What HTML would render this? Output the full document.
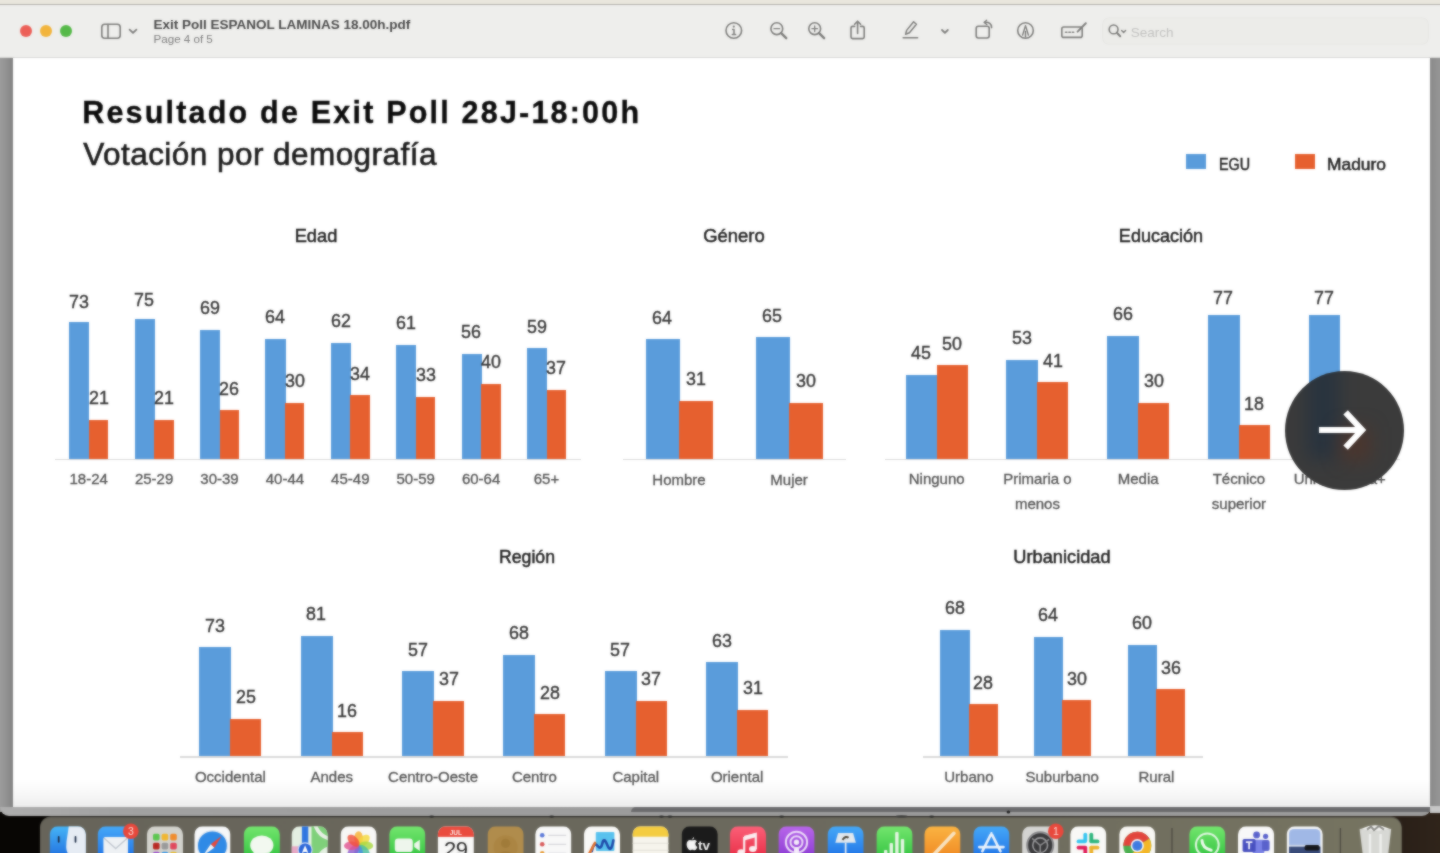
<!DOCTYPE html>
<html><head><meta charset="utf-8"><title>Exit Poll</title>
<style>
html,body{margin:0;padding:0;}
body{width:1440px;height:853px;overflow:hidden;position:relative;background:#0c0a08;font-family:"Liberation Sans", sans-serif;}
.t{position:absolute;white-space:nowrap;}
.r{position:absolute;}
#blurwrap{position:absolute;left:-20px;top:-20px;width:1480px;height:893px;overflow:hidden;filter:url(#sb);}
#in{position:absolute;left:20px;top:20px;width:1440px;height:853px;}
svg{position:absolute;overflow:visible;}
</style></head><body><svg width="0" height="0" style="position:absolute"><filter id="sb" x="0" y="0" width="100%" height="100%" color-interpolation-filters="sRGB"><feGaussianBlur stdDeviation="0.9" result="b"/><feComposite in="SourceGraphic" in2="b" operator="arithmetic" k1="0" k2="0.4" k3="0.6" k4="0"/></filter></svg><div id="blurwrap"><div id="in">
<div class="r" style="left:-20.00px;top:-20.00px;width:1480.00px;height:25.00px;background:#e9e6dd;"></div>
<div class="r" style="left:-20.00px;top:812.00px;width:1480.00px;height:61.00px;background:linear-gradient(90deg,#080604 0%,#0c0a08 50%,#2a2018 96%,#32261c 100%);"></div>
<div class="r" style="left:-20.00px;top:4.00px;width:1480.00px;height:808.00px;background:linear-gradient(90deg,#9c9c9c 20px,#8d8d8d 29px,#848484 31.5px,#8a8a8a 34px,#8a8a8a 1450px,#969696 1460px);"></div>
<div class="r" style="left:0;top:806.5px;width:1430.6px;height:9.7px;background:linear-gradient(90deg,#aeaeae 0,#a2a2a2 8%,#9e9e9e 30%,#9c9c9c 44%,#9b9b9b 44.3%,#9c9c9c 100%);border-radius:0 0 10px 10px;"></div>
<div class="r" style="left:631px;top:807.3px;width:799.6px;height:5px;background:#6b6b6d;border-radius:5px 0 0 0;"></div>
<div class="r" style="left:1430.40px;top:806.00px;width:30.00px;height:6.50px;background:#c6c6c6;"></div>
<div class="r" style="left:-20px;top:4px;width:1480px;height:53.5px;background:#eeeeec;border-top:1px solid #b4b2ac;box-sizing:border-box;"></div>
<div class="r" style="left:-20.00px;top:57.00px;width:1480.00px;height:0.80px;background:#d8d8d6;"></div>
<div class="r" style="left:12.5px;top:57.5px;width:1417.9px;height:749.8px;background:linear-gradient(180deg,#fff 0,#fff 722px,#f6f6f6 738px,#ececec 749.8px);"></div>
<div class="r" style="left:19.6px;top:25px;width:12.4px;height:12.4px;border-radius:50%;background:#ec5f57;"></div>
<div class="r" style="left:39.6px;top:25px;width:12.4px;height:12.4px;border-radius:50%;background:#f2b43c;"></div>
<div class="r" style="left:59.6px;top:25px;width:12.4px;height:12.4px;border-radius:50%;background:#55b948;"></div>
<div class="t" style="left:153.50px;top:18.37px;font-size:13.5px;line-height:13.5px;font-weight:700;color:#4a4a4a;">Exit Poll ESPANOL LAMINAS 18.00h.pdf</div>
<div class="t" style="left:153.50px;top:33.38px;font-size:11.6px;line-height:11.6px;color:#7e7e7e;">Page 4 of 5</div>
<div class="r" style="left:1103px;top:18px;width:325px;height:26px;border-radius:6px;background:#ecece9;box-shadow:0 0 0 0.6px #e3e3e0;"></div>
<div class="t" style="left:1130.80px;top:26.07px;font-size:13.5px;line-height:13.5px;color:#c2c2c0;">Search</div>
<svg style="left:0;top:0" width="1440" height="57" viewBox="0 0 1440 57" fill="none" stroke="#7d7d7b" stroke-width="1.6" stroke-linecap="round" stroke-linejoin="round"><rect x="101.8" y="24.3" width="18.4" height="14" rx="3"/><path d="M108 24.5V38"/><path d="M129.6 29.6L133 32.9L136.4 29.6" stroke-width="1.8"/><circle cx="733.8" cy="30.5" r="7.8"/><path d="M732.6 29.4H734V34.4M732.3 34.6H735.6" stroke-width="1.5"/><circle cx="733.8" cy="26.6" r="1.1" fill="#7d7d7b" stroke="none"/><circle cx="776.8" cy="28.7" r="5.9"/><path d="M781.1999999999999 33.2L786.1999999999999 38.2" stroke-width="2.4"/><path d="M774.0 28.7H779.5999999999999" stroke-width="1.3"/><circle cx="814.7" cy="28.7" r="5.9"/><path d="M819.1 33.2L824.1 38.2" stroke-width="2.4"/><path d="M811.9000000000001 28.7H817.5" stroke-width="1.3"/><path d="M814.7 25.9V31.5" stroke-width="1.3"/><path d="M854.6 26.4H852.6Q851 26.4 851 28V37Q851 38.6 852.6 38.6H862.6Q864.2 38.6 864.2 37V28Q864.2 26.4 862.6 26.4H860.6"/><path d="M857.6 33.5V21.4M854.6 24.2L857.6 21.2L860.6 24.2"/><path d="M903.2 37.8H917.6"/><path d="M905.6 34.2L906.6 30.4L913.6 21.8L916.4 24.2L909.4 32.8Z" stroke-width="1.5"/><path d="M942 30L944.9 32.8L947.8 30" stroke-width="1.8"/><rect x="976.2" y="26.2" width="13" height="11.8" rx="2.2"/><path d="M984.5 22.3Q991.6 21.6 991.6 27.6"/><path d="M986.6 20.2L984.2 22.4L986.8 24.6" stroke-width="1.3"/><circle cx="1025.5" cy="30.5" r="7.8"/><path d="M1022.6 35L1025.5 25.6L1028.4 35M1025.5 31.5V37" stroke-width="1.4"/><rect x="1061.8" y="27" width="20.4" height="10.4" rx="2"/><path d="M1065.5 32.2H1075" stroke-dasharray="1.4 2" stroke-width="1.6"/><path d="M1077.6 31.6L1085.8 23.2" stroke-width="2"/><circle cx="1113.6" cy="29.4" r="4.4"/><path d="M1116.9 32.8L1120.2 36.2" stroke-width="2"/><path d="M1121.6 30.6L1123.6 32.6L1125.6 30.6" stroke-width="1.4"/></svg>
<div class="t" style="left:82.20px;top:97.18px;font-size:30.5px;line-height:30.5px;letter-spacing:2.2px;font-weight:700;color:#0c0c0c;-webkit-text-stroke:0.35px #0c0c0c;">Resultado de Exit Poll 28J-18:00h</div>
<div class="t" style="left:83.30px;top:138.94px;font-size:31.5px;line-height:31.5px;letter-spacing:0.45px;color:#1c1c1c;-webkit-text-stroke:0.6px #161616;">Votación por demografía</div>
<div class="r" style="left:1185.80px;top:153.50px;width:20.00px;height:15.50px;background:#5a9cdb;"></div>
<div class="r" style="left:1294.60px;top:153.50px;width:20.00px;height:15.50px;background:#e6602f;"></div>
<div class="t" style="left:1218.60px;top:155.63px;font-size:16.5px;line-height:16.5px;color:#222;transform-origin:0 50%;transform:scaleX(0.87);-webkit-text-stroke:0.5px #222;">EGU</div>
<div class="t" style="left:1326.90px;top:155.63px;font-size:16.5px;line-height:16.5px;color:#222;transform-origin:0 50%;transform:scaleX(1.055);-webkit-text-stroke:0.5px #222;">Maduro</div>
<div class="t" style="left:315.60px;top:226.12px;font-size:19px;line-height:19px;color:#222;transform:translateX(-50%) scaleX(0.96);-webkit-text-stroke:0.5px #222;">Edad</div>
<div class="t" style="left:734.00px;top:226.12px;font-size:19px;line-height:19px;color:#222;transform:translateX(-50%) scaleX(0.97);-webkit-text-stroke:0.5px #222;">Género</div>
<div class="t" style="left:1161.00px;top:226.12px;font-size:19px;line-height:19px;color:#222;transform:translateX(-50%) scaleX(0.95);-webkit-text-stroke:0.5px #222;">Educación</div>
<div class="t" style="left:527.40px;top:546.72px;font-size:19px;line-height:19px;color:#222;transform:translateX(-50%) scaleX(0.93);-webkit-text-stroke:0.5px #222;">Región</div>
<div class="t" style="left:1061.90px;top:546.72px;font-size:19px;line-height:19px;color:#222;transform:translateX(-50%) scaleX(0.96);-webkit-text-stroke:0.5px #222;">Urbanicidad</div>
<div class="r" style="left:55.00px;top:458.80px;width:526.00px;height:1.40px;background:#dadada;"></div>
<div class="r" style="left:69.10px;top:322.29px;width:20.40px;height:136.51px;background:#5a9cdb;"></div>
<div class="t" style="left:78.90px;top:291.61px;font-size:19px;line-height:19px;color:#363636;transform:translateX(-50%) scaleX(0.94);-webkit-text-stroke:0.42px #363636;">73</div>
<div class="r" style="left:88.70px;top:419.53px;width:19.60px;height:39.27px;background:#e6602f;"></div>
<div class="t" style="left:98.50px;top:387.85px;font-size:19px;line-height:19px;color:#363636;transform:translateX(-50%) scaleX(0.94);-webkit-text-stroke:0.42px #363636;">21</div>
<div class="t" style="left:88.70px;top:470.90px;font-size:15px;line-height:15px;color:#555;transform:translateX(-50%) scaleX(1.0);-webkit-text-stroke:0.32px #555;">18-24</div>
<div class="r" style="left:134.50px;top:318.55px;width:20.40px;height:140.25px;background:#5a9cdb;"></div>
<div class="t" style="left:144.30px;top:289.57px;font-size:19px;line-height:19px;color:#363636;transform:translateX(-50%) scaleX(0.94);-webkit-text-stroke:0.42px #363636;">75</div>
<div class="r" style="left:154.10px;top:419.53px;width:19.60px;height:39.27px;background:#e6602f;"></div>
<div class="t" style="left:163.90px;top:387.85px;font-size:19px;line-height:19px;color:#363636;transform:translateX(-50%) scaleX(0.94);-webkit-text-stroke:0.42px #363636;">21</div>
<div class="t" style="left:154.10px;top:470.90px;font-size:15px;line-height:15px;color:#555;transform:translateX(-50%) scaleX(1.0);-webkit-text-stroke:0.32px #555;">25-29</div>
<div class="r" style="left:199.90px;top:329.77px;width:20.40px;height:129.03px;background:#5a9cdb;"></div>
<div class="t" style="left:209.70px;top:298.09px;font-size:19px;line-height:19px;color:#363636;transform:translateX(-50%) scaleX(0.94);-webkit-text-stroke:0.42px #363636;">69</div>
<div class="r" style="left:219.50px;top:410.18px;width:19.60px;height:48.62px;background:#e6602f;"></div>
<div class="t" style="left:229.30px;top:378.50px;font-size:19px;line-height:19px;color:#363636;transform:translateX(-50%) scaleX(0.94);-webkit-text-stroke:0.42px #363636;">26</div>
<div class="t" style="left:219.50px;top:470.90px;font-size:15px;line-height:15px;color:#555;transform:translateX(-50%) scaleX(1.0);-webkit-text-stroke:0.32px #555;">30-39</div>
<div class="r" style="left:265.30px;top:339.12px;width:20.40px;height:119.68px;background:#5a9cdb;"></div>
<div class="t" style="left:275.10px;top:307.44px;font-size:19px;line-height:19px;color:#363636;transform:translateX(-50%) scaleX(0.94);-webkit-text-stroke:0.42px #363636;">64</div>
<div class="r" style="left:284.90px;top:402.70px;width:19.60px;height:56.10px;background:#e6602f;"></div>
<div class="t" style="left:294.70px;top:371.02px;font-size:19px;line-height:19px;color:#363636;transform:translateX(-50%) scaleX(0.94);-webkit-text-stroke:0.42px #363636;">30</div>
<div class="t" style="left:284.90px;top:470.90px;font-size:15px;line-height:15px;color:#555;transform:translateX(-50%) scaleX(1.0);-webkit-text-stroke:0.32px #555;">40-44</div>
<div class="r" style="left:330.70px;top:342.86px;width:20.40px;height:115.94px;background:#5a9cdb;"></div>
<div class="t" style="left:340.50px;top:311.18px;font-size:19px;line-height:19px;color:#363636;transform:translateX(-50%) scaleX(0.94);-webkit-text-stroke:0.42px #363636;">62</div>
<div class="r" style="left:350.30px;top:395.22px;width:19.60px;height:63.58px;background:#e6602f;"></div>
<div class="t" style="left:360.10px;top:363.54px;font-size:19px;line-height:19px;color:#363636;transform:translateX(-50%) scaleX(0.94);-webkit-text-stroke:0.42px #363636;">34</div>
<div class="t" style="left:350.30px;top:470.90px;font-size:15px;line-height:15px;color:#555;transform:translateX(-50%) scaleX(1.0);-webkit-text-stroke:0.32px #555;">45-49</div>
<div class="r" style="left:396.10px;top:344.73px;width:20.40px;height:114.07px;background:#5a9cdb;"></div>
<div class="t" style="left:405.90px;top:313.05px;font-size:19px;line-height:19px;color:#363636;transform:translateX(-50%) scaleX(0.94);-webkit-text-stroke:0.42px #363636;">61</div>
<div class="r" style="left:415.70px;top:397.09px;width:19.60px;height:61.71px;background:#e6602f;"></div>
<div class="t" style="left:425.50px;top:365.41px;font-size:19px;line-height:19px;color:#363636;transform:translateX(-50%) scaleX(0.94);-webkit-text-stroke:0.42px #363636;">33</div>
<div class="t" style="left:415.70px;top:470.90px;font-size:15px;line-height:15px;color:#555;transform:translateX(-50%) scaleX(1.0);-webkit-text-stroke:0.32px #555;">50-59</div>
<div class="r" style="left:461.50px;top:354.08px;width:20.40px;height:104.72px;background:#5a9cdb;"></div>
<div class="t" style="left:471.30px;top:322.40px;font-size:19px;line-height:19px;color:#363636;transform:translateX(-50%) scaleX(0.94);-webkit-text-stroke:0.42px #363636;">56</div>
<div class="r" style="left:481.10px;top:384.00px;width:19.60px;height:74.80px;background:#e6602f;"></div>
<div class="t" style="left:490.90px;top:352.32px;font-size:19px;line-height:19px;color:#363636;transform:translateX(-50%) scaleX(0.94);-webkit-text-stroke:0.42px #363636;">40</div>
<div class="t" style="left:481.10px;top:470.90px;font-size:15px;line-height:15px;color:#555;transform:translateX(-50%) scaleX(1.0);-webkit-text-stroke:0.32px #555;">60-64</div>
<div class="r" style="left:526.90px;top:348.47px;width:20.40px;height:110.33px;background:#5a9cdb;"></div>
<div class="t" style="left:536.70px;top:316.79px;font-size:19px;line-height:19px;color:#363636;transform:translateX(-50%) scaleX(0.94);-webkit-text-stroke:0.42px #363636;">59</div>
<div class="r" style="left:546.50px;top:389.61px;width:19.60px;height:69.19px;background:#e6602f;"></div>
<div class="t" style="left:556.30px;top:357.93px;font-size:19px;line-height:19px;color:#363636;transform:translateX(-50%) scaleX(0.94);-webkit-text-stroke:0.42px #363636;">37</div>
<div class="t" style="left:546.50px;top:470.90px;font-size:15px;line-height:15px;color:#555;transform:translateX(-50%) scaleX(1.0);-webkit-text-stroke:0.32px #555;">65+</div>
<div class="r" style="left:623.00px;top:458.80px;width:223.00px;height:1.40px;background:#dadada;"></div>
<div class="r" style="left:645.60px;top:339.31px;width:34.20px;height:119.49px;background:#5a9cdb;"></div>
<div class="t" style="left:662.30px;top:307.63px;font-size:19px;line-height:19px;color:#363636;transform:translateX(-50%) scaleX(0.94);-webkit-text-stroke:0.42px #363636;">64</div>
<div class="r" style="left:679.00px;top:400.92px;width:34.00px;height:57.88px;background:#e6602f;"></div>
<div class="t" style="left:696.00px;top:369.24px;font-size:19px;line-height:19px;color:#363636;transform:translateX(-50%) scaleX(0.94);-webkit-text-stroke:0.42px #363636;">31</div>
<div class="t" style="left:679.00px;top:471.60px;font-size:15px;line-height:15px;color:#555;transform:translateX(-50%) scaleX(1.0);-webkit-text-stroke:0.32px #555;">Hombre</div>
<div class="r" style="left:755.70px;top:337.44px;width:34.20px;height:121.36px;background:#5a9cdb;"></div>
<div class="t" style="left:772.40px;top:305.76px;font-size:19px;line-height:19px;color:#363636;transform:translateX(-50%) scaleX(0.94);-webkit-text-stroke:0.42px #363636;">65</div>
<div class="r" style="left:789.10px;top:402.79px;width:34.00px;height:56.01px;background:#e6602f;"></div>
<div class="t" style="left:806.10px;top:371.11px;font-size:19px;line-height:19px;color:#363636;transform:translateX(-50%) scaleX(0.94);-webkit-text-stroke:0.42px #363636;">30</div>
<div class="t" style="left:789.10px;top:471.60px;font-size:15px;line-height:15px;color:#555;transform:translateX(-50%) scaleX(1.0);-webkit-text-stroke:0.32px #555;">Mujer</div>
<div class="r" style="left:885.00px;top:458.80px;width:515.00px;height:1.40px;background:#dadada;"></div>
<div class="r" style="left:905.70px;top:374.79px;width:31.80px;height:84.02px;background:#5a9cdb;"></div>
<div class="t" style="left:921.20px;top:343.10px;font-size:19px;line-height:19px;color:#363636;transform:translateX(-50%) scaleX(0.94);-webkit-text-stroke:0.42px #363636;">45</div>
<div class="r" style="left:936.70px;top:365.45px;width:31.00px;height:93.35px;background:#e6602f;"></div>
<div class="t" style="left:952.20px;top:333.77px;font-size:19px;line-height:19px;color:#363636;transform:translateX(-50%) scaleX(0.94);-webkit-text-stroke:0.42px #363636;">50</div>
<div class="t" style="left:936.70px;top:471.10px;font-size:15px;line-height:15px;color:#555;transform:translateX(-50%) scaleX(1.0);-webkit-text-stroke:0.32px #555;">Ninguno</div>
<div class="r" style="left:1006.45px;top:359.85px;width:31.80px;height:98.95px;background:#5a9cdb;"></div>
<div class="t" style="left:1021.95px;top:328.17px;font-size:19px;line-height:19px;color:#363636;transform:translateX(-50%) scaleX(0.94);-webkit-text-stroke:0.42px #363636;">53</div>
<div class="r" style="left:1037.45px;top:382.25px;width:31.00px;height:76.55px;background:#e6602f;"></div>
<div class="t" style="left:1052.95px;top:350.57px;font-size:19px;line-height:19px;color:#363636;transform:translateX(-50%) scaleX(0.94);-webkit-text-stroke:0.42px #363636;">41</div>
<div class="t" style="left:1037.45px;top:471.10px;font-size:15px;line-height:15px;color:#555;transform:translateX(-50%) scaleX(1.0);-webkit-text-stroke:0.32px #555;">Primaria o</div>
<div class="t" style="left:1037.45px;top:496.35px;font-size:15px;line-height:15px;color:#555;transform:translateX(-50%) scaleX(1.0);-webkit-text-stroke:0.32px #555;">menos</div>
<div class="r" style="left:1107.20px;top:335.58px;width:31.80px;height:123.22px;background:#5a9cdb;"></div>
<div class="t" style="left:1122.70px;top:303.89px;font-size:19px;line-height:19px;color:#363636;transform:translateX(-50%) scaleX(0.94);-webkit-text-stroke:0.42px #363636;">66</div>
<div class="r" style="left:1138.20px;top:402.79px;width:31.00px;height:56.01px;background:#e6602f;"></div>
<div class="t" style="left:1153.70px;top:371.11px;font-size:19px;line-height:19px;color:#363636;transform:translateX(-50%) scaleX(0.94);-webkit-text-stroke:0.42px #363636;">30</div>
<div class="t" style="left:1138.20px;top:471.10px;font-size:15px;line-height:15px;color:#555;transform:translateX(-50%) scaleX(1.0);-webkit-text-stroke:0.32px #555;">Media</div>
<div class="r" style="left:1207.95px;top:315.04px;width:31.80px;height:143.76px;background:#5a9cdb;"></div>
<div class="t" style="left:1223.45px;top:288.36px;font-size:19px;line-height:19px;color:#363636;transform:translateX(-50%) scaleX(0.94);-webkit-text-stroke:0.42px #363636;">77</div>
<div class="r" style="left:1238.95px;top:425.19px;width:31.00px;height:33.61px;background:#e6602f;"></div>
<div class="t" style="left:1254.45px;top:393.51px;font-size:19px;line-height:19px;color:#363636;transform:translateX(-50%) scaleX(0.94);-webkit-text-stroke:0.42px #363636;">18</div>
<div class="t" style="left:1238.95px;top:471.10px;font-size:15px;line-height:15px;color:#555;transform:translateX(-50%) scaleX(1.0);-webkit-text-stroke:0.32px #555;">Técnico</div>
<div class="t" style="left:1238.95px;top:496.35px;font-size:15px;line-height:15px;color:#555;transform:translateX(-50%) scaleX(1.0);-webkit-text-stroke:0.32px #555;">superior</div>
<div class="r" style="left:1308.70px;top:315.04px;width:31.00px;height:143.76px;background:#5a9cdb;"></div>
<div class="t" style="left:1324.20px;top:288.36px;font-size:19px;line-height:19px;color:#363636;transform:translateX(-50%) scaleX(0.94);-webkit-text-stroke:0.42px #363636;">77</div>
<div class="t" style="left:1339.70px;top:471.10px;font-size:15px;line-height:15px;color:#555;transform:translateX(-50%) scaleX(1.0);-webkit-text-stroke:0.32px #555;">Universitaria+</div>
<div class="r" style="left:179.70px;top:756.20px;width:608.30px;height:1.40px;background:#dadada;"></div>
<div class="r" style="left:199.40px;top:647.43px;width:31.80px;height:108.77px;background:#5a9cdb;"></div>
<div class="t" style="left:214.90px;top:615.75px;font-size:19px;line-height:19px;color:#363636;transform:translateX(-50%) scaleX(0.94);-webkit-text-stroke:0.42px #363636;">73</div>
<div class="r" style="left:230.40px;top:718.95px;width:31.00px;height:37.25px;background:#e6602f;"></div>
<div class="t" style="left:245.90px;top:687.27px;font-size:19px;line-height:19px;color:#363636;transform:translateX(-50%) scaleX(0.94);-webkit-text-stroke:0.42px #363636;">25</div>
<div class="t" style="left:230.40px;top:768.80px;font-size:15px;line-height:15px;color:#555;transform:translateX(-50%) scaleX(1.0);-webkit-text-stroke:0.32px #555;">Occidental</div>
<div class="r" style="left:300.75px;top:635.51px;width:31.80px;height:120.69px;background:#5a9cdb;"></div>
<div class="t" style="left:316.25px;top:603.83px;font-size:19px;line-height:19px;color:#363636;transform:translateX(-50%) scaleX(0.94);-webkit-text-stroke:0.42px #363636;">81</div>
<div class="r" style="left:331.75px;top:732.36px;width:31.00px;height:23.84px;background:#e6602f;"></div>
<div class="t" style="left:347.25px;top:700.68px;font-size:19px;line-height:19px;color:#363636;transform:translateX(-50%) scaleX(0.94);-webkit-text-stroke:0.42px #363636;">16</div>
<div class="t" style="left:331.75px;top:768.80px;font-size:15px;line-height:15px;color:#555;transform:translateX(-50%) scaleX(1.0);-webkit-text-stroke:0.32px #555;">Andes</div>
<div class="r" style="left:402.10px;top:671.27px;width:31.80px;height:84.93px;background:#5a9cdb;"></div>
<div class="t" style="left:417.60px;top:639.59px;font-size:19px;line-height:19px;color:#363636;transform:translateX(-50%) scaleX(0.94);-webkit-text-stroke:0.42px #363636;">57</div>
<div class="r" style="left:433.10px;top:701.07px;width:31.00px;height:55.13px;background:#e6602f;"></div>
<div class="t" style="left:448.60px;top:669.39px;font-size:19px;line-height:19px;color:#363636;transform:translateX(-50%) scaleX(0.94);-webkit-text-stroke:0.42px #363636;">37</div>
<div class="t" style="left:433.10px;top:768.80px;font-size:15px;line-height:15px;color:#555;transform:translateX(-50%) scaleX(1.0);-webkit-text-stroke:0.32px #555;">Centro-Oeste</div>
<div class="r" style="left:503.45px;top:654.88px;width:31.80px;height:101.32px;background:#5a9cdb;"></div>
<div class="t" style="left:518.95px;top:623.20px;font-size:19px;line-height:19px;color:#363636;transform:translateX(-50%) scaleX(0.94);-webkit-text-stroke:0.42px #363636;">68</div>
<div class="r" style="left:534.45px;top:714.48px;width:31.00px;height:41.72px;background:#e6602f;"></div>
<div class="t" style="left:549.95px;top:682.80px;font-size:19px;line-height:19px;color:#363636;transform:translateX(-50%) scaleX(0.94);-webkit-text-stroke:0.42px #363636;">28</div>
<div class="t" style="left:534.45px;top:768.80px;font-size:15px;line-height:15px;color:#555;transform:translateX(-50%) scaleX(1.0);-webkit-text-stroke:0.32px #555;">Centro</div>
<div class="r" style="left:604.80px;top:671.27px;width:31.80px;height:84.93px;background:#5a9cdb;"></div>
<div class="t" style="left:620.30px;top:639.59px;font-size:19px;line-height:19px;color:#363636;transform:translateX(-50%) scaleX(0.94);-webkit-text-stroke:0.42px #363636;">57</div>
<div class="r" style="left:635.80px;top:701.07px;width:31.00px;height:55.13px;background:#e6602f;"></div>
<div class="t" style="left:651.30px;top:669.39px;font-size:19px;line-height:19px;color:#363636;transform:translateX(-50%) scaleX(0.94);-webkit-text-stroke:0.42px #363636;">37</div>
<div class="t" style="left:635.80px;top:768.80px;font-size:15px;line-height:15px;color:#555;transform:translateX(-50%) scaleX(1.0);-webkit-text-stroke:0.32px #555;">Capital</div>
<div class="r" style="left:706.15px;top:662.33px;width:31.80px;height:93.87px;background:#5a9cdb;"></div>
<div class="t" style="left:721.65px;top:630.65px;font-size:19px;line-height:19px;color:#363636;transform:translateX(-50%) scaleX(0.94);-webkit-text-stroke:0.42px #363636;">63</div>
<div class="r" style="left:737.15px;top:710.01px;width:31.00px;height:46.19px;background:#e6602f;"></div>
<div class="t" style="left:752.65px;top:678.33px;font-size:19px;line-height:19px;color:#363636;transform:translateX(-50%) scaleX(0.94);-webkit-text-stroke:0.42px #363636;">31</div>
<div class="t" style="left:737.15px;top:768.80px;font-size:15px;line-height:15px;color:#555;transform:translateX(-50%) scaleX(1.0);-webkit-text-stroke:0.32px #555;">Oriental</div>
<div class="r" style="left:922.80px;top:756.40px;width:280.00px;height:1.40px;background:#dadada;"></div>
<div class="r" style="left:940.30px;top:629.58px;width:29.40px;height:126.82px;background:#5a9cdb;"></div>
<div class="t" style="left:954.60px;top:597.90px;font-size:19px;line-height:19px;color:#363636;transform:translateX(-50%) scaleX(0.94);-webkit-text-stroke:0.42px #363636;">68</div>
<div class="r" style="left:968.90px;top:704.18px;width:28.80px;height:52.22px;background:#e6602f;"></div>
<div class="t" style="left:983.30px;top:672.50px;font-size:19px;line-height:19px;color:#363636;transform:translateX(-50%) scaleX(0.94);-webkit-text-stroke:0.42px #363636;">28</div>
<div class="t" style="left:968.90px;top:768.80px;font-size:15px;line-height:15px;color:#555;transform:translateX(-50%) scaleX(1.0);-webkit-text-stroke:0.32px #555;">Urbano</div>
<div class="r" style="left:1033.60px;top:637.04px;width:29.40px;height:119.36px;background:#5a9cdb;"></div>
<div class="t" style="left:1047.90px;top:605.36px;font-size:19px;line-height:19px;color:#363636;transform:translateX(-50%) scaleX(0.94);-webkit-text-stroke:0.42px #363636;">64</div>
<div class="r" style="left:1062.20px;top:700.45px;width:28.80px;height:55.95px;background:#e6602f;"></div>
<div class="t" style="left:1076.60px;top:668.77px;font-size:19px;line-height:19px;color:#363636;transform:translateX(-50%) scaleX(0.94);-webkit-text-stroke:0.42px #363636;">30</div>
<div class="t" style="left:1062.20px;top:768.80px;font-size:15px;line-height:15px;color:#555;transform:translateX(-50%) scaleX(1.0);-webkit-text-stroke:0.32px #555;">Suburbano</div>
<div class="r" style="left:1127.80px;top:644.50px;width:29.40px;height:111.90px;background:#5a9cdb;"></div>
<div class="t" style="left:1142.10px;top:612.82px;font-size:19px;line-height:19px;color:#363636;transform:translateX(-50%) scaleX(0.94);-webkit-text-stroke:0.42px #363636;">60</div>
<div class="r" style="left:1156.40px;top:689.26px;width:28.80px;height:67.14px;background:#e6602f;"></div>
<div class="t" style="left:1170.80px;top:657.58px;font-size:19px;line-height:19px;color:#363636;transform:translateX(-50%) scaleX(0.94);-webkit-text-stroke:0.42px #363636;">36</div>
<div class="t" style="left:1156.40px;top:768.80px;font-size:15px;line-height:15px;color:#555;transform:translateX(-50%) scaleX(1.0);-webkit-text-stroke:0.32px #555;">Rural</div>
<div class="r" style="left:1285.2px;top:371.4px;width:119px;height:119px;border-radius:50%;background:#3b3b3b;overflow:hidden;"><div class="r" style="left:22px;top:-10px;width:32px;height:98px;background:rgba(26,46,66,.55);filter:blur(9px);"></div><div class="r" style="left:54px;top:56px;width:32px;height:34px;background:rgba(92,50,34,.5);filter:blur(9px);"></div></div>
<svg style="left:1285.2px;top:371.4px" width="119" height="119" viewBox="0 0 119 119"><path d="M34 59H78M60.6 41.4L77 59L60.6 76.6" fill="none" stroke="#fff" stroke-width="6.2" stroke-linejoin="miter"/></svg>
<svg style="left:0;top:812px" width="1440" height="61" viewBox="0 812 1440 61"><defs>
<linearGradient id="gB" x1="0" y1="0" x2="0" y2="1"><stop offset="0" stop-color="#45a8f8"/><stop offset="1" stop-color="#1d6de4"/></linearGradient>
<linearGradient id="gG" x1="0" y1="0" x2="0" y2="1"><stop offset="0" stop-color="#74e66e"/><stop offset="1" stop-color="#2cbf3c"/></linearGradient>
<linearGradient id="gR" x1="0" y1="0" x2="0" y2="1"><stop offset="0" stop-color="#fb6078"/><stop offset="1" stop-color="#e62840"/></linearGradient>
<linearGradient id="gP" x1="0" y1="0" x2="0" y2="1"><stop offset="0" stop-color="#b866ea"/><stop offset="1" stop-color="#8636d0"/></linearGradient>
<linearGradient id="gO" x1="0" y1="0" x2="0" y2="1"><stop offset="0" stop-color="#fbb442"/><stop offset="1" stop-color="#ee8420"/></linearGradient>
<linearGradient id="gF" x1="0" y1="0" x2="0" y2="1"><stop offset="0" stop-color="#46b4f6"/><stop offset="1" stop-color="#1c66dc"/></linearGradient>
<linearGradient id="gD" x1="0" y1="0" x2="1" y2="0"><stop offset="0" stop-color="#67645a"/><stop offset="0.6" stop-color="#6c6a5e"/><stop offset="1" stop-color="#767461"/></linearGradient>
<clipPath id="ic"><rect x="0" y="0" width="36.2" height="36.2" rx="8.2"/></clipPath>
</defs><rect x="40" y="816.4" width="1361.6" height="60" rx="11" fill="#55534b"/><rect x="40" y="817.8" width="1361.6" height="60" rx="11" fill="url(#gD)"/><path d="M1172 828V873M1340.4 828V873" stroke="#4f4c43" stroke-width="1.3"/><g transform="translate(49.7,826.3)"><g clip-path="url(#ic)"><rect width="36.2" height="36.2" fill="url(#gF)"/><path d="M19 0H37V37H21C21.5 31 16.5 27 16.5 21C16.5 13 18.5 7 19 0Z" fill="#e6ecf4"/><path d="M9 10.5V15.5M25.8 10.5V15.5" stroke="#1a2a44" stroke-width="1.7" stroke-linecap="round"/></g></g><g transform="translate(97.6,826.3)"><g clip-path="url(#ic)"><rect width="36.2" height="36.2" fill="url(#gB)"/><rect x="5.8" y="10.8" width="24.6" height="18" rx="2" fill="#eef1f4"/><path d="M6.3 11.8L18.1 22.3L29.9 11.8" fill="none" stroke="#c2c8d0" stroke-width="1.4"/></g></g><g transform="translate(146.8,826.3)"><g clip-path="url(#ic)"><rect width="36.2" height="36.2" fill="#d2d2cc"/><rect x="6.2" y="7.5" width="6.6" height="6.6" rx="1.6" fill="#5cc650"/><rect x="14.8" y="7.5" width="6.6" height="6.6" rx="1.6" fill="#f0b630"/><rect x="23.4" y="7.5" width="6.6" height="6.6" rx="1.6" fill="#f08c2c"/><rect x="6.2" y="16.5" width="6.6" height="6.6" rx="1.6" fill="#b82a22"/><rect x="14.8" y="16.5" width="6.6" height="6.6" rx="1.6" fill="#9a9a9a"/><rect x="23.4" y="16.5" width="6.6" height="6.6" rx="1.6" fill="#e0485c"/><rect x="6.2" y="25.5" width="6.6" height="6.6" rx="1.6" fill="#a35ad0"/><rect x="14.8" y="25.5" width="6.6" height="6.6" rx="1.6" fill="#4aa0e8"/><rect x="23.4" y="25.5" width="6.6" height="6.6" rx="1.6" fill="#e8c040"/></g></g><g transform="translate(194.3,826.3)"><g clip-path="url(#ic)"><rect width="36.2" height="36.2" fill="#f6f7f8"/><circle cx="18.1" cy="19.5" r="15" fill="#2f8ae6"/><circle cx="18.1" cy="19.5" r="15" fill="none" stroke="#dfe6ee" stroke-width="1.2"/><path d="M27.5 9.5L20 21.5L16.4 18Z" fill="#e64a3c"/><path d="M8.6 29.5L16.4 18L20 21.5Z" fill="#f2f4f6"/></g></g><g transform="translate(243.7,826.3)"><g clip-path="url(#ic)"><rect width="36.2" height="36.2" fill="url(#gG)"/><ellipse cx="18.1" cy="19" rx="11.6" ry="9.8" fill="#f2f8f0"/><path d="M10 26L8 31L14 28Z" fill="#f2f8f0"/></g></g><g transform="translate(291.5,826.3)"><g clip-path="url(#ic)"><rect width="36.2" height="36.2" fill="#e4efe2"/><path d="M20 0H37V20Q28 22 22 37H20Z" fill="#7fd07a"/><path d="M26 0Q30 8 37 10V14Q27 12 22 0Z" fill="#e8efe6"/><rect x="10.4" y="0" width="6.4" height="22" fill="#2f76e0"/><rect x="0" y="20" width="12" height="17" fill="#e7a8c4"/><circle cx="13.6" cy="23.5" r="7" fill="#2a66d8"/><circle cx="13.6" cy="23.5" r="7" fill="none" stroke="#cfdcf6" stroke-width="1.2"/><path d="M13.6 19L17 27L13.6 25.4L10.2 27Z" fill="#fff"/></g></g><g transform="translate(340.5,826.3)"><g clip-path="url(#ic)"><rect width="36.2" height="36.2" fill="#f7f7f5"/><ellipse cx="18.10" cy="12.30" rx="4.3" ry="7.4" transform="rotate(0 18.10 12.30)" fill="#f6b030" fill-opacity="0.82"/><ellipse cx="23.19" cy="14.41" rx="4.3" ry="7.4" transform="rotate(45 23.19 14.41)" fill="#f4d83a" fill-opacity="0.82"/><ellipse cx="25.30" cy="19.50" rx="4.3" ry="7.4" transform="rotate(90 25.30 19.50)" fill="#a8d840" fill-opacity="0.82"/><ellipse cx="23.19" cy="24.59" rx="4.3" ry="7.4" transform="rotate(135 23.19 24.59)" fill="#4cc0a0" fill-opacity="0.82"/><ellipse cx="18.10" cy="26.70" rx="4.3" ry="7.4" transform="rotate(180 18.10 26.70)" fill="#4a90e0" fill-opacity="0.82"/><ellipse cx="13.01" cy="24.59" rx="4.3" ry="7.4" transform="rotate(225 13.01 24.59)" fill="#9060d0" fill-opacity="0.82"/><ellipse cx="10.90" cy="19.50" rx="4.3" ry="7.4" transform="rotate(270 10.90 19.50)" fill="#e05090" fill-opacity="0.82"/><ellipse cx="13.01" cy="14.41" rx="4.3" ry="7.4" transform="rotate(315 13.01 14.41)" fill="#f0503c" fill-opacity="0.82"/></g></g><g transform="translate(389.2,826.3)"><g clip-path="url(#ic)"><rect width="36.2" height="36.2" fill="url(#gG)"/><rect x="5.6" y="12.2" width="18" height="13.6" rx="3.4" fill="#eef6ec"/><path d="M25 17.2L30.6 13.4V24.6L25 20.8Z" fill="#eef6ec"/></g></g><g transform="translate(437.7,826.3)"><g clip-path="url(#ic)"><rect width="36.2" height="36.2" fill="#f8f8f7"/><rect width="37" height="10.6" fill="#ea4b3e"/><text x="18.1" y="8.6" font-family="Liberation Sans, sans-serif" font-size="6.5" font-weight="700" fill="#fbe6e2" text-anchor="middle">JUL</text><text x="18.1" y="31" font-family="Liberation Sans, sans-serif" font-size="22" fill="#2c2c2c" text-anchor="middle" letter-spacing="-0.5">29</text></g></g><g transform="translate(487.5,826.3)"><g clip-path="url(#ic)"><rect width="36.2" height="36.2" fill="#b08c4c"/><circle cx="18.1" cy="21" r="12" fill="#a8803c" fill-opacity=".55"/><circle cx="18.1" cy="17" r="4.6" fill="#9a7434" fill-opacity=".6"/><path d="M9 30Q18 20 27.2 30V37H9Z" fill="#9a7434" fill-opacity=".5"/></g></g><g transform="translate(535.2,826.3)"><g clip-path="url(#ic)"><rect width="36.2" height="36.2" fill="#f8f8f8"/><circle cx="7" cy="9" r="2.3" fill="#5a78d8"/><circle cx="7" cy="18" r="2.3" fill="#d85a5a"/><circle cx="7" cy="27" r="2.3" fill="#e8a040"/><path d="M13 9H31M13 18H31M13 27H31" stroke="#d8d8dc" stroke-width="1.2"/></g></g><g transform="translate(583.8,826.3)"><g clip-path="url(#ic)"><rect width="36.2" height="36.2" fill="#f8f8f6"/><rect x="12" y="5.6" width="18.6" height="19" rx="1" fill="#58c2ee"/><path d="M8 25Q10 15 13.6 19.5T18.6 17T23.6 19T29.6 14" fill="none" stroke="#1f4aa8" stroke-width="2.6" stroke-linecap="round"/><path d="M5.6 27L11.2 16.5" stroke="#e0702c" stroke-width="2.6" stroke-linecap="round"/></g></g><g transform="translate(632.4,826.3)"><g clip-path="url(#ic)"><rect width="36.2" height="36.2" fill="#f6f4ec"/><rect width="37" height="10.4" fill="#f4cc40"/><path d="M0 17H37M0 24H37" stroke="#e4e2da" stroke-width="1"/></g></g><g transform="translate(681.6,826.3)"><g clip-path="url(#ic)"><rect width="36.2" height="36.2" fill="#1b1b1b"/><path d="M10.8 13.2C12 13 12.6 11.8 12.4 11C11.4 11.2 10.6 12.2 10.8 13.2ZM12.6 13.6C11.8 13.6 11.2 14 10.6 14C10 14 9.2 13.6 8.4 13.6C6.6 13.6 5 15.2 5 18C5 20.8 7 24 8.6 24C9.4 24 9.8 23.5 10.8 23.5C11.8 23.5 12 24 12.9 24C14.2 24 15.4 22 15.8 20.6C14.4 20 13.8 18.8 13.8 17.8C13.8 16.6 14.4 15.6 15.4 15C14.7 14 13.6 13.6 12.6 13.6Z" fill="#f4f4f4"/><text x="16.4" y="23.8" font-family="Liberation Sans, sans-serif" font-size="13.5" font-weight="700" fill="#f4f4f4">tv</text></g></g><g transform="translate(729.8,826.3)"><g clip-path="url(#ic)"><rect width="36.2" height="36.2" fill="url(#gR)"/><path d="M14.4 10.8L26 7.6V22.6" fill="none" stroke="#fbeef0" stroke-width="2.2"/><path d="M14.4 10.8V25.8" stroke="#fbeef0" stroke-width="2.2"/><path d="M14.4 9.8L26 6.6V11L14.4 14.2Z" fill="#fbeef0"/><ellipse cx="11.4" cy="26" rx="3.8" ry="3" fill="#fbeef0"/><ellipse cx="23" cy="22.8" rx="3.8" ry="3" fill="#fbeef0"/></g></g><g transform="translate(778.4,826.3)"><g clip-path="url(#ic)"><rect width="36.2" height="36.2" fill="url(#gP)"/><circle cx="18.1" cy="16" r="10.6" fill="none" stroke="#ecdcf8" stroke-width="2"/><circle cx="18.1" cy="16" r="6" fill="none" stroke="#ecdcf8" stroke-width="2"/><circle cx="18.1" cy="16" r="2.7" fill="#f4ecfa"/><rect x="15.6" y="20.6" width="5" height="12" rx="2.5" fill="#f4ecfa"/></g></g><g transform="translate(827.5,826.3)"><g clip-path="url(#ic)"><rect width="36.2" height="36.2" fill="url(#gB)"/><path d="M10.6 6.6H25.6L28.4 16.4H7.8Z" fill="#e2e8ee"/><path d="M15 13.5Q18.5 9 21 11.5" fill="none" stroke="#4a4436" stroke-width="2"/><rect x="17.3" y="16.4" width="1.7" height="14" fill="#e8eef4"/></g></g><g transform="translate(876.4,826.3)"><g clip-path="url(#ic)"><rect width="36.2" height="36.2" fill="url(#gG)"/><rect x="7.6" y="23.6" width="3.4" height="14" rx="1" fill="#e6f6e4"/><rect x="13.2" y="16.6" width="3.4" height="21" rx="1" fill="#e6f6e4"/><rect x="18.8" y="5.6" width="3.4" height="32" rx="1" fill="#e6f6e4"/><rect x="24.4" y="12.6" width="3.4" height="25" rx="1" fill="#e6f6e4"/></g></g><g transform="translate(924.3,826.3)"><g clip-path="url(#ic)"><rect width="36.2" height="36.2" fill="url(#gO)"/><path d="M8 30L29.6 7" stroke="#f8e2c0" stroke-width="3.6" stroke-linecap="round"/></g></g><g transform="translate(973.3,826.3)"><g clip-path="url(#ic)"><rect width="36.2" height="36.2" fill="url(#gB)"/><path d="M18.1 7L9 25M18.1 7L27.2 25M6 20.8H30.2" fill="none" stroke="#eaf2fc" stroke-width="2.6" stroke-linecap="round"/></g></g><g transform="translate(1022.1,826.3)"><g clip-path="url(#ic)"><rect width="36.2" height="36.2" fill="#d4d4d2"/><circle cx="18.1" cy="19" r="13" fill="#3a3a3c"/><circle cx="18.1" cy="19" r="13" fill="none" stroke="#8c8c8e" stroke-width="2"/><circle cx="18.1" cy="19" r="7.4" fill="none" stroke="#9a9a9c" stroke-width="1.6"/><path d="M18.1 19L10 12M18.1 19L27 13M18.1 19V31" stroke="#8a8a8c" stroke-width="1.6"/></g></g><g transform="translate(1070.2,826.3)"><g clip-path="url(#ic)"><rect width="36.2" height="36.2" fill="#f8f8f6"/><rect x="13.2" y="6.4" width="3.8" height="10" rx="1.9" fill="#36c5f0"/><rect x="6.4" y="13.2" width="10" height="3.8" rx="1.9" fill="#36c5f0"/><rect x="19.2" y="6.4" width="3.8" height="10" rx="1.9" fill="#2eb67d"/><rect x="19.2" y="13.2" width="10" height="3.8" rx="1.9" fill="#2eb67d"/><rect x="13.2" y="19.4" width="3.8" height="10" rx="1.9" fill="#e01e5a"/><rect x="6.4" y="19.4" width="10" height="3.8" rx="1.9" fill="#e01e5a"/><rect x="19.2" y="19.4" width="3.8" height="10" rx="1.9" fill="#ecb22e"/><rect x="19.2" y="19.4" width="10" height="3.8" rx="1.9" fill="#ecb22e"/></g></g><g transform="translate(1119.2,826.3)"><g clip-path="url(#ic)"><rect width="36.2" height="36.2" fill="#f7f6f2"/><circle cx="18.1" cy="19.4" r="14" fill="#4caf50"/><path d="M18.1 19.4L4.1 19.4A14 14 0 0 1 30.2 12.4Z" fill="#e2453c"/><path d="M18.1 19.4L30.2 12.4A14 14 0 0 1 18.1 33.4L11 31.5Z" fill="#f4b728"/><path d="M4.1 19.4A14 14 0 0 1 30.2 12.4L18.1 12.4Z" fill="#e2453c"/><circle cx="18.1" cy="19.4" r="6.6" fill="#f2f4f8"/><circle cx="18.1" cy="19.4" r="5" fill="#3f7be0"/></g></g><g transform="translate(1189.2,826.3)"><g clip-path="url(#ic)"><rect width="36.2" height="36.2" fill="url(#gG)"/><circle cx="18.1" cy="18.6" r="11.4" fill="none" stroke="#dff6e0" stroke-width="2"/><path d="M12.8 14.2Q13 21.6 22 24" fill="none" stroke="#eefaee" stroke-width="3" stroke-linecap="round"/></g></g><g transform="translate(1238.0,826.3)"><g clip-path="url(#ic)"><rect width="36.2" height="36.2" fill="#f8f8f8"/><circle cx="18.6" cy="8.6" r="3.4" fill="#5a62cc"/><circle cx="27.6" cy="10" r="2.6" fill="#5a62cc"/><rect x="14.4" y="13.4" width="12" height="14" rx="2" fill="#7a82e6"/><rect x="24" y="13.8" width="7.6" height="11" rx="2" fill="#5a62cc"/><rect x="4.6" y="12.6" width="13" height="13" rx="1.6" fill="#4850c0"/><path d="M7.8 15.8H14.4M11.1 15.8V23" stroke="#f0f0fa" stroke-width="1.8"/></g></g><g transform="translate(1286.6,826.3)"><g clip-path="url(#ic)"><rect width="36.2" height="36.2" fill="#f4f5f6"/><rect x="2.4" y="2.6" width="31.4" height="34" rx="5" fill="#a0b8e6"/><rect x="2.4" y="18.6" width="31.4" height="2" fill="#d4dcec"/><rect x="2.4" y="20.4" width="31.4" height="17" fill="#3a4c7a"/><rect x="18" y="18.8" width="15" height="5.4" rx="2" fill="#14171c"/></g></g><ellipse cx="431.7" cy="816.6" rx="2.6" ry="1.1" fill="#2a2a28"/><ellipse cx="551.7" cy="816.6" rx="2.6" ry="1.1" fill="#2a2a28"/><ellipse cx="661.5" cy="816.6" rx="2.6" ry="1.1" fill="#2a2a28"/><ellipse cx="670" cy="816.6" rx="2.6" ry="1.1" fill="#2a2a28"/><ellipse cx="781.7" cy="816.6" rx="2.6" ry="1.1" fill="#2a2a28"/><ellipse cx="931.7" cy="816.6" rx="2.6" ry="1.1" fill="#2a2a28"/><ellipse cx="901.7" cy="816.4" rx="6" ry="1.1" fill="#3a3a38"/><ellipse cx="1008.4" cy="812" rx="1.8" ry="1.6" fill="#222"/><circle cx="130.8" cy="831.2" r="7.8" fill="#e8483c"/><circle cx="1055.8" cy="831.2" r="7.8" fill="#e8483c"/><text x="130.8" y="835.4" font-family="Liberation Sans, sans-serif" font-size="10.5" fill="#fbd8d4" text-anchor="middle">3</text><text x="1055.8" y="835.4" font-family="Liberation Sans, sans-serif" font-size="10.5" fill="#fbd8d4" text-anchor="middle">1</text><path d="M1359.6 829Q1375 825 1391.2 829L1386 873H1365Z" fill="#dfe1de" fill-opacity=".92"/><path d="M1362 828.6Q1375 822 1389 828.6Q1375 833 1362 828.6Z" fill="#f2f2f0"/><path d="M1367 829.6L1371 826.6L1374 830L1379 826L1384 829.6" fill="none" stroke="#8e8e8a" stroke-width="2"/><path d="M1370 834V873M1380.6 834V873" stroke="#f4f5f3" stroke-width="2.4" stroke-opacity=".8"/></svg>
</div></div></body></html>
